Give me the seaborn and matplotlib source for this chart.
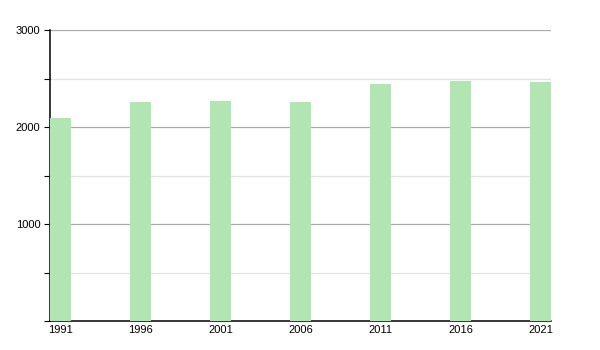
import matplotlib
matplotlib.use("Agg")
import matplotlib.pyplot as plt
import seaborn as sns
import pandas as pd
from matplotlib.ticker import MultipleLocator

years = ["1991", "1996", "2001", "2006", "2011", "2016", "2021"]
population = [2093, 2261, 2268, 2258, 2443, 2474, 2467]
yticks = [1000, 2000, 3000]

df = pd.DataFrame({"year": years, "pop": population})

sns.set_style("white")
plt.rcParams["font.family"] = ["Liberation Sans", "DejaVu Sans"]

fig = plt.figure(figsize=(6, 3.5), dpi=100)
ax = fig.add_axes([50 / 600, (350 - 321) / 350, 501 / 600, 291 / 350])

w = 21 / 80
sns.barplot(data=df, x="year", y="pop", color="#b1e5b1", saturation=1,
            width=w, ax=ax, edgecolor="none", zorder=3)

ax.set_xlim(-w / 2, len(years) - 1 + w / 2)
ax.set_ylim(0, 3000)
ax.set_yticks(yticks)
ax.yaxis.set_minor_locator(MultipleLocator(500))
ax.grid(axis="y", which="major", color="#aaaaaa", linewidth=0.9, zorder=0)
ax.grid(axis="y", which="minor", color="#e2e2e2", linewidth=0.9, zorder=0)
ax.set_axisbelow(True)

for s in ["top", "right"]:
    ax.spines[s].set_visible(False)
for s in ["left", "bottom"]:
    ax.spines[s].set_color("black")
    ax.spines[s].set_linewidth(1.1)

ax.tick_params(axis="y", which="major", direction="out", length=4, width=0.8,
               color="black", labelcolor="black", labelsize=8, pad=3, left=True)
ax.tick_params(axis="y", which="minor", direction="out", length=4, width=0.8,
               color="black", left=True)
ax.tick_params(axis="x", length=0, labelsize=8, pad=3, labelcolor="black")
ax.set_xlabel("")
ax.set_ylabel("")

fig.savefig("out.png", dpi=100)
